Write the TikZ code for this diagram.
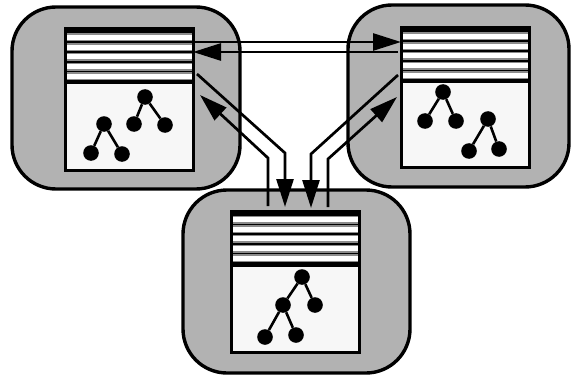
\documentclass[tikz,border=0pt]{standalone}
\usepackage{tikz}
\usetikzlibrary{arrows.meta}

\tikzset{
  site/.style={fill=black!30, draw=black, line width=1.7mm, rounded corners=22mm},
  store/.style={draw=black, line width=1.5mm},
  dot/.style={circle, fill=black, inner sep=0pt, minimum size=7.8mm},
  twig/.style={line width=1.3mm},
  msg/.style={line width=1.35mm, -{Triangle[length=14mm, width=8.5mm]}}
}

\begin{document}
\begin{tikzpicture}[x=0.5mm, y=-0.5mm]
\useasboundingbox (0,0) rectangle (571,378);

% ========== left site ==========
\begin{scope}[shift={(65,29)}]
  \draw[site] (-53,-22) rectangle (175,160);
  \fill[black!3] (0,54) rectangle (128,141);

  % log stripes
  \fill[black] (0,0) rectangle (128,54);
  \foreach \k in {0,...,4} {
    \fill[black!45] (0,4.5+\k*9.7) rectangle (128,12.5+\k*9.7);
    \fill[white] (0,6+\k*9.7) rectangle (128,11+\k*9.7);
  }
  \draw[store] (0,0) rectangle (128,141);
  \draw[store] (0,54) -- (128,54);

  % two small trees
  \node[dot] (LAr) at (80,68) {};
  \node[dot] (LAa) at (69,95) {};
  \node[dot] (LAb) at (100,96) {};
  \node[dot] (LBr) at (39,95) {};
  \node[dot] (LBa) at (26,124) {};
  \node[dot] (LBb) at (57,125) {};
  \draw[twig] (LAr) -- (LAa) (LAr) -- (LAb);
  \draw[twig] (LBr) -- (LBa) (LBr) -- (LBb);

  \coordinate (L-top) at (128,13);
  \coordinate (L-back) at (128,23);
  \coordinate (L-out) at (132,45);
  \coordinate (L-in) at (135,66);
\end{scope}

% ========== right site ==========
\begin{scope}[shift={(401,28)}]
  \draw[site] (-53,-23) rectangle (168,159);
  \fill[black!3] (0,54) rectangle (128,139);

  % log stripes
  \fill[black] (0,0) rectangle (128,54);
  \foreach \k in {0,...,4} {
    \fill[black!45] (0,4.5+\k*9.7) rectangle (128,12.5+\k*9.7);
    \fill[white] (0,6+\k*9.7) rectangle (128,11+\k*9.7);
  }
  \draw[store] (0,0) rectangle (128,139);
  \draw[store] (0,54) -- (128,54);

  % two small trees
  \node[dot] (RAr) at (42,64) {};
  \node[dot] (RAa) at (24,93) {};
  \node[dot] (RAb) at (55,93) {};
  \node[dot] (RBr) at (87,91) {};
  \node[dot] (RBa) at (68,123) {};
  \node[dot] (RBb) at (98,121) {};
  \draw[twig] (RAr) -- (RAa) (RAr) -- (RAb);
  \draw[twig] (RBr) -- (RBa) (RBr) -- (RBb);

  \coordinate (R-top) at (0,14);
  \coordinate (R-back) at (-3,24);
  \coordinate (R-out) at (-3,47);
  \coordinate (R-in) at (-4,69);
\end{scope}

% ========== bottom site ==========
\begin{scope}[shift={(231,211)}]
  \draw[site] (-48,-21) rectangle (179,162);
  \fill[black!3] (0,54) rectangle (128,141);

  % log stripes
  \fill[black] (0,0) rectangle (128,54);
  \foreach \k in {0,...,4} {
    \fill[black!45] (0,4.5+\k*9.7) rectangle (128,12.5+\k*9.7);
    \fill[white] (0,6+\k*9.7) rectangle (128,11+\k*9.7);
  }
  \draw[store] (0,0) rectangle (128,141);
  \draw[store] (0,54) -- (128,54);

  % one deeper tree
  \node[dot] (Br) at (71,66) {};
  \node[dot] (Ba) at (52,94) {};
  \node[dot] (Bb) at (84,94) {};
  \node[dot] (Bc) at (34,126) {};
  \node[dot] (Bd) at (65,124) {};
  \draw[twig] (Br) -- (Ba) (Br) -- (Bb);
  \draw[twig] (Ba) -- (Bc) (Ba) -- (Bd);

  \coordinate (B-in1) at (54,-4);
  \coordinate (B-out1) at (37,-5);
  \coordinate (B-in2) at (80,-3);
  \coordinate (B-out2) at (97,-4);
\end{scope}

% ========== messages between sites ==========
\draw[msg] (L-top) -- (R-top);
\draw[msg] (R-back) -- (L-back);

\draw[msg] (L-out) -- ++(88,79) -- (B-in1);
\draw[msg] (B-out1) -- ++(0,-48) -- (L-in);
\draw[msg] (R-out) -- ++(-87,79) -- (B-in2);
\draw[msg] (B-out2) -- ++(0,-48) -- (R-in);

\end{tikzpicture}
\end{document}
